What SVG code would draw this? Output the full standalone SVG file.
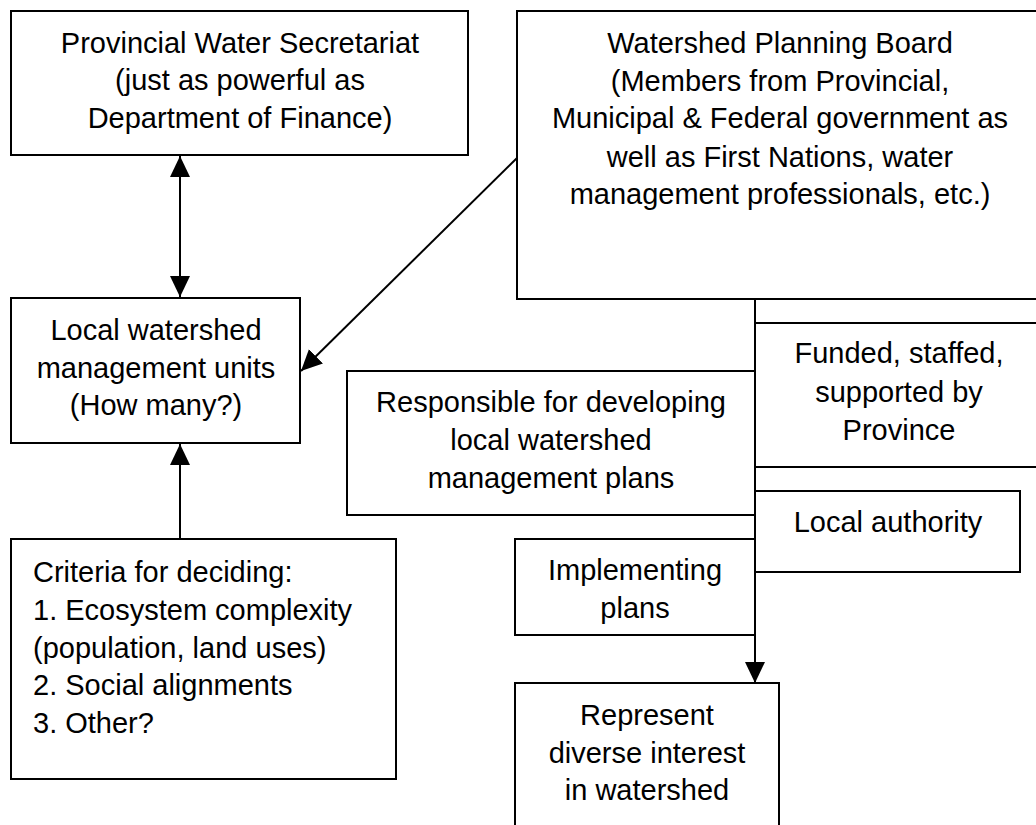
<svg xmlns="http://www.w3.org/2000/svg" width="1036" height="825" viewBox="0 0 1036 825">
<style>
  .box { fill: #fff; stroke: #000; stroke-width: 2; }
  .t { font-family: "Liberation Sans", Arial, sans-serif; font-size: 29px; fill: #000; }
  .c { text-anchor: middle; }
  .ln { stroke: #000; stroke-width: 2; fill: none; }
</style>
<defs>
  <marker id="ah" markerUnits="userSpaceOnUse" markerWidth="22" markerHeight="22" refX="21" refY="10" orient="auto-start-reverse" viewBox="0 0 22 22">
    <path d="M0,0 L21,10 L0,20 z" fill="#000"/>
  </marker>
</defs>
<rect width="1036" height="825" fill="#fff"/>

<g id="connectors">
  <line class="ln" x1="180" y1="156" x2="180" y2="297" marker-start="url(#ah)" marker-end="url(#ah)"/>
  <line class="ln" x1="517" y1="158" x2="301" y2="371" marker-end="url(#ah)"/>
  <line class="ln" x1="180" y1="539" x2="180" y2="444" marker-end="url(#ah)"/>
  <line class="ln" x1="755" y1="299" x2="755" y2="683" marker-end="url(#ah)"/>
</g>

<g id="provincial-water-secretariat">
  <rect class="box" x="11" y="11" width="457" height="144"/>
  <text class="t c" x="240" y="53">Provincial Water Secretariat</text>
  <text class="t c" x="240" y="90">(just as powerful as</text>
  <text class="t c" x="240" y="128">Department of Finance)</text>
</g>

<g id="watershed-planning-board">
  <rect class="box" x="517" y="11" width="530" height="288"/>
  <text class="t c" x="780" y="53">Watershed Planning Board</text>
  <text class="t c" x="780" y="91">(Members from Provincial,</text>
  <text class="t c" x="780" y="128">Municipal &amp; Federal government as</text>
  <text class="t c" x="780" y="167">well as First Nations, water</text>
  <text class="t c" x="780" y="204">management professionals, etc.)</text>
</g>

<g id="local-watershed-units">
  <rect class="box" x="11" y="298" width="289" height="145"/>
  <text class="t c" x="156" y="340">Local watershed</text>
  <text class="t c" x="156" y="378">management units</text>
  <text class="t c" x="156" y="415">(How many?)</text>
</g>

<g id="criteria">
  <rect class="box" x="11" y="539" width="385" height="240"/>
  <text class="t" x="33" y="582">Criteria for deciding:</text>
  <text class="t" x="33" y="620">1. Ecosystem complexity</text>
  <text class="t" x="33" y="658">(population, land uses)</text>
  <text class="t" x="33" y="695">2. Social alignments</text>
  <text class="t" x="33" y="733">3. Other?</text>
</g>

<g id="funded">
  <rect class="box" x="755" y="323" width="292" height="144"/>
  <text class="t c" x="899" y="363">Funded, staffed,</text>
  <text class="t c" x="899" y="402">supported by</text>
  <text class="t c" x="899" y="440">Province</text>
</g>

<g id="responsible">
  <rect class="box" x="347" y="371" width="408" height="144"/>
  <text class="t c" x="551" y="412">Responsible for developing</text>
  <text class="t c" x="551" y="450">local watershed</text>
  <text class="t c" x="551" y="488">management plans</text>
</g>

<g id="local-authority">
  <rect class="box" x="755" y="491" width="265" height="81"/>
  <text class="t c" x="888" y="532">Local authority</text>
</g>

<g id="implementing">
  <rect class="box" x="515" y="539" width="240" height="96"/>
  <text class="t c" x="635" y="580">Implementing</text>
  <text class="t c" x="635" y="618">plans</text>
</g>

<g id="represent">
  <rect class="box" x="515" y="683" width="264" height="160"/>
  <text class="t c" x="647" y="725">Represent</text>
  <text class="t c" x="647" y="763">diverse interest</text>
  <text class="t c" x="647" y="800">in watershed</text>
</g>
</svg>
